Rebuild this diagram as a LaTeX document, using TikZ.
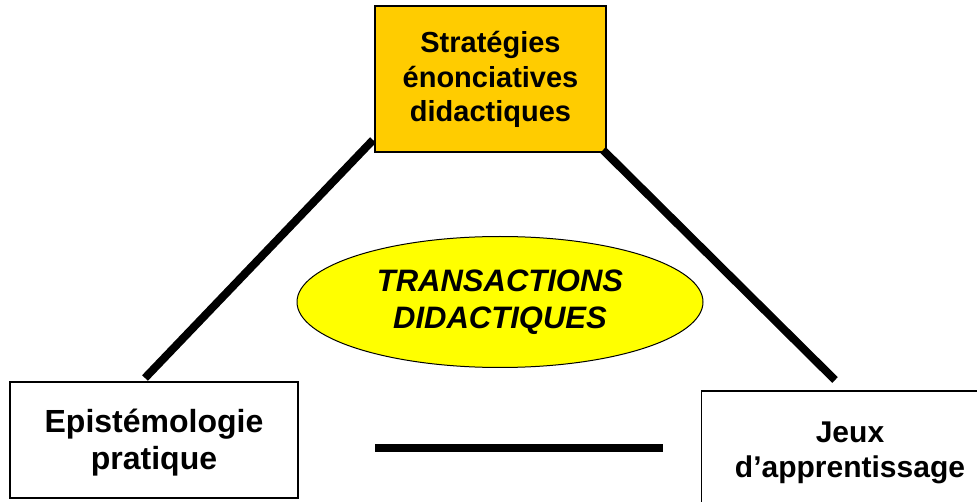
\documentclass[tikz,border=0pt]{standalone}
\usepackage{fontspec}
\setmainfont{Liberation Sans}
\usetikzlibrary{shapes.geometric}
\definecolor{stratcolor}{HTML}{FFCC00}
\definecolor{transcolor}{HTML}{FFFF00}
\begin{document}
\begin{tikzpicture}[x=1pt,y=-1pt,
  box/.style={draw=black,line width=1.5pt,inner sep=0pt},
  boxtext/.style={inner sep=0pt,align=center},
  bar/.style={line width=8pt}]
\clip (0,0) rectangle (977,502);
\fill[white] (0,0) rectangle (977,502);

\node[box,fill=stratcolor,minimum width=231pt,minimum height=146pt] (strat) at (490.5,79) {};
\node[box,minimum width=288pt,minimum height=116pt] (episte) at (154,440) {};
\node[box,line width=1pt,minimum width=298pt,minimum height=118pt] (jeux) at (850,450) {};
\node[ellipse,draw=black,line width=1pt,fill=transcolor,
  minimum width=406pt,minimum height=131pt] (trans) at (500,302) {};

\node[boxtext,font=\fontsize{29}{34.5}\selectfont\bfseries] (strattext) at (490.5,79.5)
  {Stratégies\\énonciatives\\didactiques};
\node[boxtext,font=\fontsize{32}{37}\selectfont\bfseries] (epistetext) at (154,443)
  {Epistémologie\\pratique};
\node[boxtext,font=\fontsize{30}{35}\selectfont\bfseries] (jeuxtext) at (850,453)
  {Jeux\\d’apprentissage};
\node[boxtext,font=\fontsize{31}{37}\selectfont\bfseries\itshape] (transtext) at (500,302)
  {TRANSACTIONS\\DIDACTIQUES};

\coordinate (LT) at (373,140);
\coordinate (LB) at (145,378);
\coordinate (RT) at (603,150);
\coordinate (RB) at (835,380);
\coordinate (BL) at (375,448);
\coordinate (BR) at (663,448);

\draw[bar] (LT) -- (LB);
\draw[bar] (RT) -- (RB);
\draw[bar] (BL) -- (BR);
\end{tikzpicture}
\end{document}
